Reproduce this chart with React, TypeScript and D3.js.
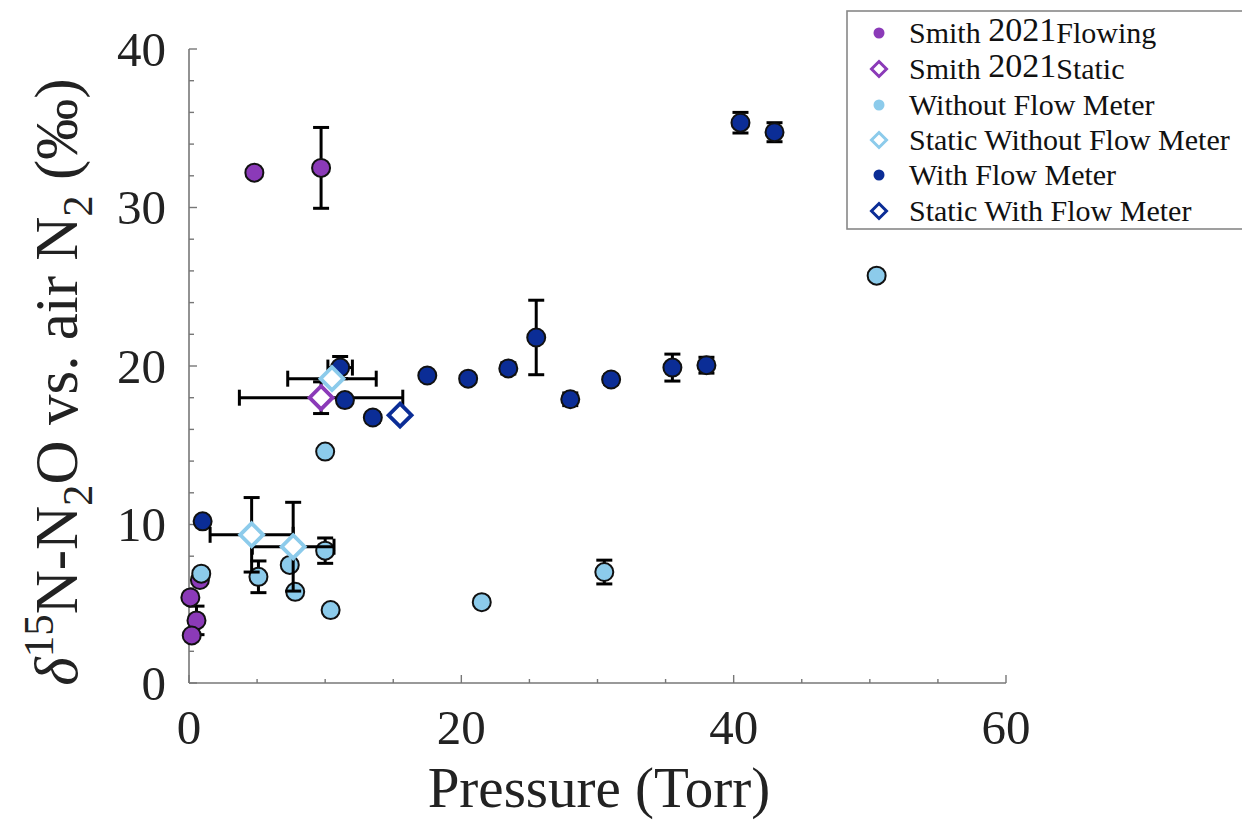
import React from "react";
import * as d3 from "d3";

// ---------- data ----------
const smithFlowX = [0.1, 0.55, 0.2, 0.8, 4.8, 9.7];
const smithFlowY = [5.4, 3.95, 3.0, 6.5, 32.2, 32.5];
const smithFlowYErr = [0, 0.9, 0, 0, 0, 2.55];

const smithStaticX = [9.7];
const smithStaticY = [18.0];
const smithStaticXErr = [6.0];
const smithStaticYErr = [1.0];

const withoutX = [0.9, 5.1, 7.4, 7.8, 10.0, 10.4, 10.0, 21.5, 30.5, 50.5];
const withoutY = [6.9, 6.7, 7.45, 5.75, 8.35, 4.6, 14.6, 5.1, 7.0, 25.7];
const withoutYErr = [0, 1.0, 0, 0, 0.8, 0, 0, 0, 0.75, 0];

const staticWithoutX = [4.6, 7.65, 10.5];
const staticWithoutY = [9.35, 8.6, 19.2];
const staticWithoutXErr = [3.05, 3.0, 3.25];
const staticWithoutYErr = [2.35, 2.8, 0];

const withX = [1.0, 11.1, 11.45, 13.5, 17.5, 20.5, 23.45, 25.5, 28.0, 31.0, 35.5, 38.0, 40.5, 43.0];
const withY = [10.2, 19.9, 17.85, 16.75, 19.4, 19.2, 19.85, 21.8, 17.9, 19.15, 19.9, 20.05, 35.35, 34.75];
const withYErr = [0, 0.7, 0, 0.3, 0, 0, 0.35, 2.35, 0.4, 0.3, 0.85, 0.5, 0.65, 0.6];
const withXErr = [0, 0.9, 0, 0, 0, 0, 0, 0, 0, 0, 0, 0, 0, 0];

const staticWithX = [15.5];
const staticWithY = [16.9];

const xTicks = [0, 20, 40, 60];
const yTicks = [0, 10, 20, 30, 40];

const legendLabels = [
  ["Smith ", "2021", "Flowing"],
  ["Smith ", "2021", "Static"],
  ["Without Flow Meter"],
  ["Static Without Flow Meter"],
  ["With Flow Meter"],
  ["Static With Flow Meter"],
];

const PURPLE = "#8B3AB8";
const LIGHT = "#8CCBEB";
const DARK = "#0B2D96";
const FONT = "'Liberation Serif', 'Times New Roman', serif";

const x = d3.scaleLinear().domain([0, 60]).range([189, 1006]);
const y = d3.scaleLinear().domain([0, 40]).range([683, 49]);

const CAP = 8;
const EB = { stroke: "#000", strokeWidth: 3 };

function ErrorBars({ xs, ys, xe, ye }: { xs: number[]; ys: number[]; xe?: number[]; ye?: number[] }) {
  return (
    <g>
      {xs.map((xv, i) => {
        const cx = x(xv);
        const cy = y(ys[i]);
        const parts: any[] = [];
        if (ye && ye[i] > 0) {
          const t = y(ys[i] + ye[i]);
          const b = y(ys[i] - ye[i]);
          parts.push(<line key="v" x1={cx} x2={cx} y1={t} y2={b} {...EB} />);
          parts.push(<line key="vt" x1={cx - CAP} x2={cx + CAP} y1={t} y2={t} {...EB} />);
          parts.push(<line key="vb" x1={cx - CAP} x2={cx + CAP} y1={b} y2={b} {...EB} />);
        }
        if (xe && xe[i] > 0) {
          const l = x(xv - xe[i]);
          const r = x(xv + xe[i]);
          parts.push(<line key="h" x1={l} x2={r} y1={cy} y2={cy} {...EB} />);
          parts.push(<line key="hl" x1={l} x2={l} y1={cy - CAP} y2={cy + CAP} {...EB} />);
          parts.push(<line key="hr" x1={r} x2={r} y1={cy - CAP} y2={cy + CAP} {...EB} />);
        }
        return <g key={i}>{parts}</g>;
      })}
    </g>
  );
}

function Circles({ xs, ys, color }: { xs: number[]; ys: number[]; color: string }) {
  return (
    <g>
      {xs.map((xv, i) => (
        <circle key={i} cx={x(xv)} cy={y(ys[i])} r={9} fill={color} stroke="#111" strokeWidth={2} />
      ))}
    </g>
  );
}

function diamondPath(cx: number, cy: number, s: number) {
  return `M${cx},${cy - s}L${cx + s},${cy}L${cx},${cy + s}L${cx - s},${cy}Z`;
}

function Diamonds({ xs, ys, color }: { xs: number[]; ys: number[]; color: string }) {
  return (
    <g>
      {xs.map((xv, i) => (
        <path key={i} d={diamondPath(x(xv), y(ys[i]), 11.5)} fill="#fff" stroke={color} strokeWidth={3.8} />
      ))}
    </g>
  );
}

export default function App() {
  const xMinor = d3.range(0, 61, 5);
  const yMinor = d3.range(0, 41, 2);
  const axisColor = "#777";
  const legendRowY = [33, 69, 105, 140, 175, 211];
  const legendColors = [PURPLE, PURPLE, LIGHT, LIGHT, DARK, DARK];
  return (
    <svg
      width={1242}
      height={820}
      style={{ position: "absolute", left: 0, top: 0, background: "#fff" }}
      fontFamily={FONT}
    >
      {/* axes */}
      <line x1={x(0)} x2={x(60)} y1={y(0)} y2={y(0)} stroke={axisColor} strokeWidth={1.6} />
      <line x1={x(0)} x2={x(0)} y1={y(0)} y2={y(40)} stroke={axisColor} strokeWidth={1.6} />
      {xMinor.map((t) => (
        <line key={"xm" + t} x1={x(t)} x2={x(t)} y1={y(0)} y2={y(0) - (t % 20 === 0 ? 8 : 4)} stroke={axisColor} strokeWidth={1.4} />
      ))}
      {yMinor.map((t) => (
        <line key={"ym" + t} x1={x(0)} x2={x(0) + (t % 10 === 0 ? 8 : 5)} y1={y(t)} y2={y(t)} stroke={axisColor} strokeWidth={1.4} />
      ))}
      {xTicks.map((t) => (
        <text key={"xt" + t} x={x(t)} y={744} textAnchor="middle" fontSize={49} fill="#222">
          {t}
        </text>
      ))}
      {yTicks.map((t) => (
        <text key={"yt" + t} x={166} y={y(t)} dy="0.34em" textAnchor="end" fontSize={49} fill="#222">
          {t}
        </text>
      ))}
      <text x={599} y={807} textAnchor="middle" fontSize={57} fill="#222">
        Pressure (Torr)
      </text>
      <text transform="translate(77,382) rotate(-90)" textAnchor="middle" fontSize={61} fill="#222">
        <tspan fontStyle="italic">δ</tspan>
        <tspan fontSize={43} dy={-24}>15</tspan>
        <tspan dy={24}>N-N</tspan>
        <tspan fontSize={43} dy={15}>2</tspan>
        <tspan dy={-15}>O vs. air N</tspan>
        <tspan fontSize={43} dy={15}>2</tspan>
        <tspan dy={-15}>{"\u00a0(‰)"}</tspan>
      </text>

      {/* series */}
      <ErrorBars xs={smithFlowX} ys={smithFlowY} ye={smithFlowYErr} />
      <Circles xs={smithFlowX} ys={smithFlowY} color={PURPLE} />
      <ErrorBars xs={smithStaticX} ys={smithStaticY} xe={smithStaticXErr} ye={smithStaticYErr} />
      <Diamonds xs={smithStaticX} ys={smithStaticY} color={PURPLE} />
      <ErrorBars xs={withX} ys={withY} xe={withXErr} ye={withYErr} />
      <Circles xs={withX} ys={withY} color={DARK} />
      <Diamonds xs={staticWithX} ys={staticWithY} color={DARK} />
      <ErrorBars xs={withoutX} ys={withoutY} ye={withoutYErr} />
      <Circles xs={withoutX} ys={withoutY} color={LIGHT} />
      <ErrorBars xs={staticWithoutX} ys={staticWithoutY} xe={staticWithoutXErr} ye={staticWithoutYErr} />
      <Diamonds xs={staticWithoutX} ys={staticWithoutY} color={LIGHT} />

      {/* legend */}
      <rect x={847} y={11} width={420} height={218} fill="#fff" stroke="#888" strokeWidth={1.6} />
      {legendLabels.map((lab, i) => {
        const cy = legendRowY[i];
        const isDiamond = i % 2 === 1;
        return (
          <g key={i}>
            {isDiamond ? (
              <path d={diamondPath(879, cy, 7.5)} fill="#fff" stroke={legendColors[i]} strokeWidth={3} />
            ) : (
              <circle cx={879} cy={cy} r={5.5} fill={legendColors[i]} />
            )}
            <text x={909} y={cy + 10} fontSize={30} fill="#111">
              {lab.length === 3 ? (
                <>
                  <tspan>{lab[0]}</tspan>
                  <tspan fontSize={34} dy={-2}>{lab[1]}</tspan>
                  <tspan dy={2}>{lab[2]}</tspan>
                </>
              ) : (
                lab[0]
              )}
            </text>
          </g>
        );
      })}
    </svg>
  );
}
